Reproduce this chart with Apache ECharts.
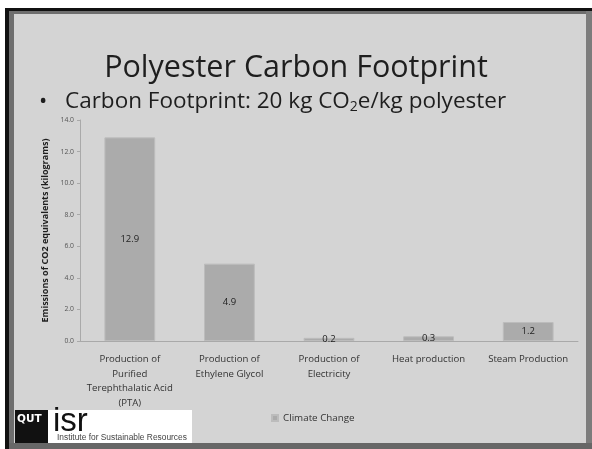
<!DOCTYPE html>
<html>
<head>
<meta charset="utf-8">
<script src="https://cdn.jsdelivr.net/npm/echarts@6/dist/echarts.min.js"></script>
<style>
  html, body { margin: 0; padding: 0; background: #ffffff; }
  #chart { width: 592px; height: 449px; }
</style>
</head>
<body>
<div id="chart"></div>
<script>
// Process stages (category axis) and their emissions
const categories = [
  'Production of\nPurified\nTerephthalatic Acid\n(PTA)',
  'Production of\nEthylene Glycol',
  'Production of\nElectricity',
  'Heat production',
  'Steam Production'
];
const climateChange = [12.9, 4.9, 0.2, 0.3, 1.2];
const yTicks = [0, 2, 4, 6, 8, 10, 12, 14];

const font = '"Open Sans", "Noto Sans", sans-serif';
const barColor = '#ababab';

const chart = echarts.init(document.getElementById('chart'), null, { renderer: 'canvas' });

chart.setOption({
  backgroundColor: '#d4d4d4',
  animation: false,
  title: {
    text: 'Polyester Carbon Footprint',
    left: 'center',
    top: 48,
    textStyle: { fontFamily: font, fontSize: 30.5, fontWeight: 'normal', color: '#1e1e1e' }
  },
  graphic: [
    // slide frame
    { type: 'rect', shape: { x: 0, y: 0, width: 592, height: 8 }, style: { fill: '#ffffff' }, silent: true },
    { type: 'rect', shape: { x: 0, y: 0, width: 5, height: 449 }, style: { fill: '#ffffff' }, silent: true },
    { type: 'rect', shape: { x: 5, y: 8, width: 587, height: 3 }, style: { fill: '#111111' }, silent: true },
    { type: 'rect', shape: { x: 5, y: 8, width: 4, height: 441 }, style: { fill: '#111111' }, silent: true },
    { type: 'rect', shape: { x: 9, y: 11, width: 583, height: 3 }, style: { fill: '#6e6e6e' }, silent: true },
    { type: 'rect', shape: { x: 9, y: 11, width: 5, height: 438 }, style: { fill: '#6e6e6e' }, silent: true },
    { type: 'rect', shape: { x: 586, y: 11, width: 6, height: 438 }, style: { fill: '#7c7c7c' }, silent: true },
    { type: 'rect', shape: { x: 9, y: 443, width: 583, height: 6 }, style: { fill: '#676767' }, silent: true },
    // bullet line
    {
      type: 'text', left: 39, top: 91, silent: true,
      style: { text: '•', fontFamily: font, fontSize: 22, fill: '#1e1e1e' }
    },
    {
      type: 'text', left: 65, top: 90, silent: true,
      style: {
        text: '{t|Carbon Footprint: 20 kg CO}{s|2}{t|e/kg polyester}',
        fontFamily: font, fontSize: 22.5, fill: '#1e1e1e',
        rich: {
          t: { fontFamily: font, fontSize: 22.5, fill: '#1e1e1e' },
          s: { fontFamily: font, fontSize: 14, fill: '#1e1e1e', padding: [12, 0, 0, 0] }
        }
      }
    },
    // logo block
    { type: 'rect', shape: { x: 15, y: 410, width: 177, height: 33 }, style: { fill: '#ffffff' }, silent: true },
    { type: 'rect', shape: { x: 15, y: 410, width: 33, height: 33 }, style: { fill: '#111111' }, silent: true },
    {
      type: 'text', left: 17, top: 414, silent: true,
      style: { text: 'QUT', fontFamily: '"DejaVu Sans", sans-serif', fontSize: 10.5, fontWeight: 'bold', fill: '#ffffff' }
    },
    {
      type: 'text', left: 53, top: 405, silent: true,
      style: { text: 'isr', fontFamily: '"Liberation Sans", Arial, sans-serif', fontSize: 33, fill: '#111111' }
    },
    {
      type: 'text', left: 57, top: 434, silent: true,
      style: { text: 'Institute for Sustainable Resources', fontFamily: '"Liberation Sans", Arial, sans-serif', fontSize: 8.4, fill: '#444444' }
    }
  ],
  legend: {
    data: ['Climate Change'],
    left: 271,
    top: 413,
    padding: 0,
    itemWidth: 6,
    itemHeight: 6,
    itemGap: 4,
    icon: 'rect',
    textStyle: { fontFamily: font, fontSize: 9.8, color: '#333333' }
  },
  grid: { left: 80, right: 14, top: 120, bottom: 108 },
  xAxis: {
    type: 'category',
    data: categories,
    axisLine: { show: true, lineStyle: { color: '#a9a9a9', width: 1 } },
    axisTick: { show: false },
    axisLabel: {
      interval: 0, margin: 11, lineHeight: 14.6,
      fontFamily: font, fontSize: 9.6, color: '#333333'
    }
  },
  yAxis: {
    type: 'value',
    min: yTicks[0],
    max: yTicks[yTicks.length - 1],
    interval: 2,
    name: 'Emissions of CO2 equivalents (kilograms)',
    nameLocation: 'middle',
    nameGap: 26,
    nameRotate: 90,
    nameTextStyle: { fontFamily: font, fontSize: 9, fontWeight: 'bold', color: '#1e1e1e' },
    splitLine: { show: false },
    axisLine: { show: true, lineStyle: { color: '#a9a9a9', width: 1 } },
    axisTick: { show: true, length: 3, inside: false, lineStyle: { color: '#a9a9a9' } },
    axisLabel: {
      margin: 6,
      fontFamily: font, fontSize: 6.8, color: '#555555',
      formatter: v => v.toFixed(1)
    }
  },
  series: [{
    name: 'Climate Change',
    type: 'bar',
    data: climateChange,
    barWidth: '51%',
    itemStyle: { color: barColor, borderColor: '#bcbcbc', borderWidth: 1 },
    label: {
      show: true,
      position: 'inside',
      fontFamily: font, fontSize: 9.5, color: '#222222',
      formatter: p => p.value.toFixed(1)
    }
  }]
});
</script>
</body>
</html>
